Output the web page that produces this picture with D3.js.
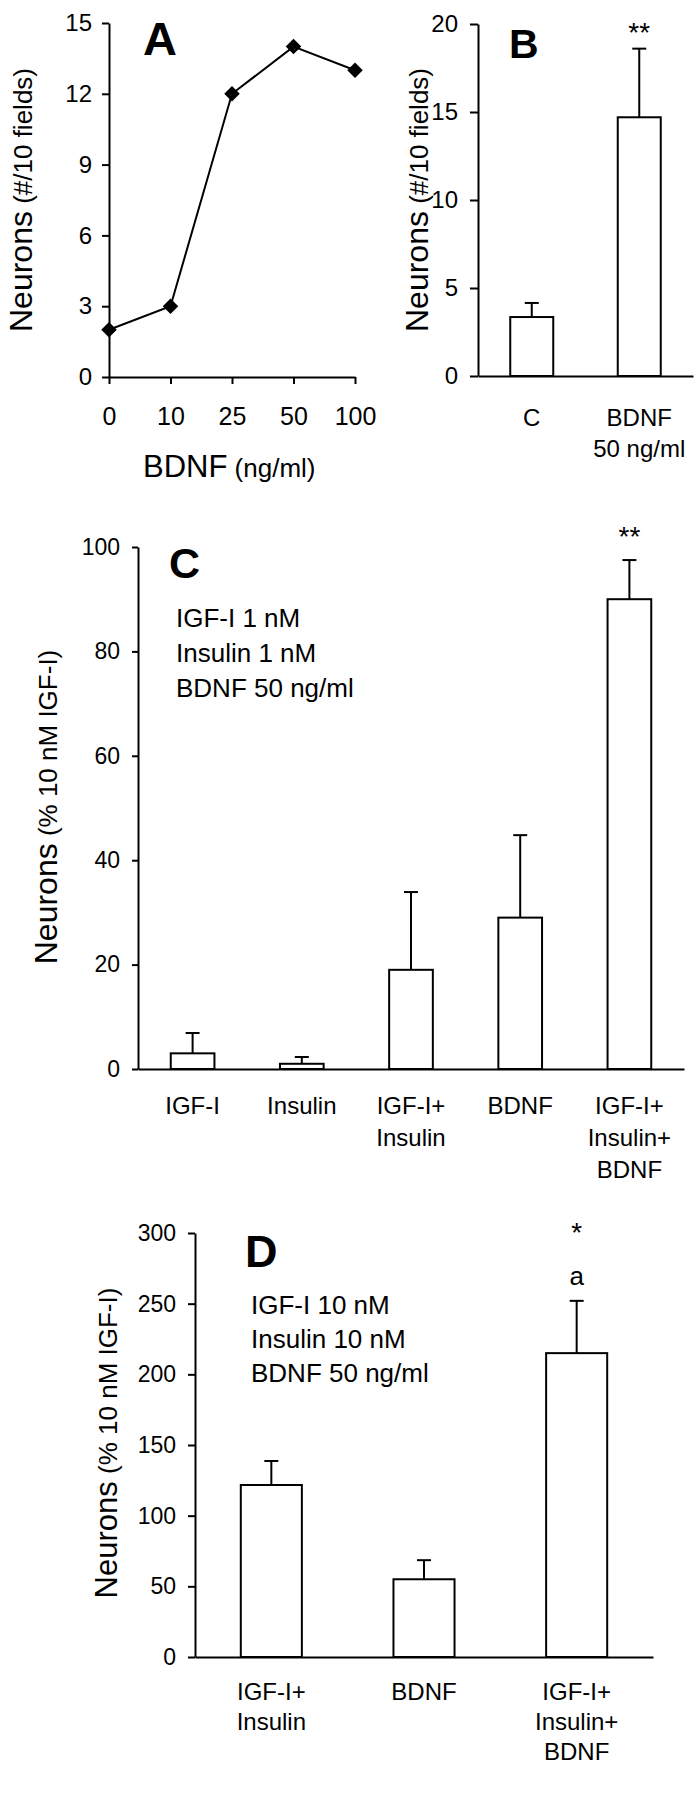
<!DOCTYPE html>
<html>
<head>
<meta charset="utf-8">
<script src="https://cdn.jsdelivr.net/npm/d3@7"></script>
<style>
  html, body { margin: 0; padding: 0; background: #fff; }
  svg { display: block; }
  text { font-family: "Liberation Sans", Arial, Helvetica, sans-serif; fill: #000; }
</style>
</head>
<body>
<svg id="fig" width="699" height="1800"></svg>
<script>
// ---------------- DATA ----------------
// Panel A: dose response
const aDoses = ["0", "10", "25", "50", "100"];
const aNeurons = [2, 3, 12, 14, 13];
const aYTicks = [0, 3, 6, 9, 12, 15];

// Panel B
const bGroups = [["C"], ["BDNF", "50 ng/ml"]];
const bMeans = [3.35, 14.7];
const bSem = [0.8, 3.9];
const bStars = ["", "**"];
const bYTicks = [0, 5, 10, 15, 20];

// Panel C
const cGroups = [["IGF-I"], ["Insulin"], ["IGF-I+", "Insulin"], ["BDNF"], ["IGF-I+", "Insulin+", "BDNF"]];
const cMeans = [3, 1, 19, 29, 90];
const cSem = [3.9, 1.3, 14.9, 15.8, 7.5];
const cStars = ["", "", "", "", "**"];
const cYTicks = [0, 20, 40, 60, 80, 100];
const cNotes = ["IGF-I 1 nM", "Insulin 1 nM", "BDNF 50 ng/ml"];

// Panel D
const dGroups = [["IGF-I+", "Insulin"], ["BDNF"], ["IGF-I+", "Insulin+", "BDNF"]];
const dMeans = [121.7, 55, 215];
const dSem = [17, 13.5, 37];
const dStars = ["", "", "*"];
const dLetters = ["", "", "a"];
const dYTicks = [0, 50, 100, 150, 200, 250, 300];
const dNotes = ["IGF-I 10 nM", "Insulin 10 nM", "BDNF 50 ng/ml"];

// ---------------- DRAW ----------------
const svg = d3.select("#fig");
svg.append("rect").attr("width", 699).attr("height", 1800).attr("fill", "#fff");
const FONT = '"Liberation Sans", Arial, Helvetica, sans-serif';

function styleAxis(g, fs) {
  g.attr("font-family", FONT).attr("font-size", fs);
  g.selectAll("path.domain").attr("stroke", "#000").attr("stroke-width", 2);
  g.selectAll(".tick line").attr("stroke", "#000").attr("stroke-width", 2);
  g.selectAll(".tick text").attr("fill", "#000");
}

function yTitle(x, y, big, small, bigSize, smallSize) {
  const t = svg.append("text")
    .attr("transform", `translate(${x},${y}) rotate(-90)`)
    .attr("text-anchor", "middle");
  t.append("tspan").attr("font-size", bigSize).text(big);
  t.append("tspan").attr("font-size", smallSize).text(" " + small);
}

function panelLetter(x, y, letter, size) {
  svg.append("text").attr("x", x).attr("y", y)
    .attr("font-size", size).attr("font-weight", "bold").text(letter);
}

// ----- Panel A -----
{
  const x = d3.scalePoint().domain(aDoses).range([109, 355]);
  const y = d3.scaleLinear().domain([0, 15]).range([377, 23]);
  const gy = svg.append("g").attr("transform", "translate(109,0)")
    .call(d3.axisLeft(y).tickValues(aYTicks).tickSize(7).tickPadding(10).tickSizeOuter(0));
  styleAxis(gy, 24);
  const gx = svg.append("g").attr("transform", "translate(0,377)")
    .call(d3.axisBottom(x).tickSize(7).tickPadding(41).tickSizeOuter(0));
  styleAxis(gx, 25);
  gx.selectAll(".tick text").attr("dy", 0);

  const line = d3.line().x((d, i) => x(aDoses[i])).y(d => y(d));
  svg.append("path").datum(aNeurons).attr("d", line)
    .attr("fill", "none").attr("stroke", "#000").attr("stroke-width", 2);
  svg.selectAll(".diamA").data(aNeurons).enter().append("path")
    .attr("d", d3.symbol().type(d3.symbolSquare).size(120))
    .attr("transform", (d, i) => `translate(${x(aDoses[i])},${y(d)}) rotate(45)`)
    .attr("fill", "#000");

  panelLetter(143, 55, "A", 47);
  yTitle(32, 200, "Neurons", "(#/10 fields)", 32, 26);
  const xl = svg.append("text").attr("x", 143).attr("y", 477);
  xl.append("tspan").attr("font-size", 31).text("BDNF");
  xl.append("tspan").attr("font-size", 26).text(" (ng/ml)");
}

// ----- generic bar panel -----
function barPanel(o) {
  const x = d3.scaleBand().domain(o.groups.map((g, i) => i))
    .range([o.x0, o.x1]).paddingInner(0.6).paddingOuter(0.3);
  const y = d3.scaleLinear().domain([0, o.ymax]).range([o.y0, o.y1]);

  const gy = svg.append("g").attr("transform", `translate(${o.x0},0)`)
    .call(d3.axisLeft(y).tickValues(o.ticks).tickSize(o.tick).tickPadding(o.pad).tickSizeOuter(0));
  styleAxis(gy, o.tickFont);
  const gx = svg.append("g").attr("transform", `translate(0,${o.y0})`)
    .call(d3.axisBottom(x).tickSize(0).tickFormat("").tickSizeOuter(0));
  styleAxis(gx, o.tickFont);

  const bw = x.bandwidth();
  const cap = 14;
  // error bars
  o.means.forEach((m, i) => {
    const cx = x(i) + bw / 2;
    svg.append("line").attr("x1", cx).attr("x2", cx)
      .attr("y1", y(m)).attr("y2", y(m + o.sem[i]))
      .attr("stroke", "#000").attr("stroke-width", 2);
    svg.append("line").attr("x1", cx - cap / 2).attr("x2", cx + cap / 2)
      .attr("y1", y(m + o.sem[i])).attr("y2", y(m + o.sem[i]))
      .attr("stroke", "#000").attr("stroke-width", 2);
  });
  // bars
  svg.selectAll(null).data(o.means).enter().append("rect")
    .attr("x", (d, i) => x(i)).attr("width", bw)
    .attr("y", d => y(d)).attr("height", d => o.y0 - y(d))
    .attr("fill", "#fff").attr("stroke", "#000").attr("stroke-width", 2);

  // category labels
  o.groups.forEach((lines, i) => {
    const t = svg.append("text").attr("text-anchor", "middle")
      .attr("font-size", o.catFont);
    lines.forEach((s, k) => {
      t.append("tspan").attr("x", x(i) + bw / 2)
        .attr("y", o.y0 + o.catOff + k * o.catGap).text(s);
    });
  });
  // significance marks
  if (o.stars) o.stars.forEach((s, i) => {
    if (!s) return;
    svg.append("text").attr("x", x(i) + bw / 2).attr("y", o.starY)
      .attr("text-anchor", "middle").attr("font-size", 28).text(s);
  });
  if (o.letters) o.letters.forEach((s, i) => {
    if (!s) return;
    svg.append("text").attr("x", x(i) + bw / 2).attr("y", o.letterY)
      .attr("text-anchor", "middle").attr("font-size", 26).text(s);
  });
  if (o.notes) o.notes.forEach((s, k) => {
    svg.append("text").attr("x", o.noteX).attr("y", o.noteY + k * o.noteGap)
      .attr("font-size", 26).text(s);
  });
  return { x, y };
}

// ----- Panel B -----
barPanel({
  groups: bGroups, means: bMeans, sem: bSem, stars: bStars, ticks: bYTicks, ymax: 20,
  x0: 478, x1: 693, y0: 376, y1: 24, tick: 8, pad: 12, tickFont: 24,
  catFont: 24, catOff: 50, catGap: 31, starY: 42
});
panelLetter(509, 58, "B", 41);
yTitle(428, 200, "Neurons", "(#/10 fields)", 32, 26);

// ----- Panel C -----
barPanel({
  groups: cGroups, means: cMeans, sem: cSem, stars: cStars, ticks: cYTicks, ymax: 100,
  x0: 138, x1: 684, y0: 1069, y1: 547, tick: 6, pad: 12, tickFont: 23,
  catFont: 24, catOff: 45, catGap: 32, starY: 546,
  notes: cNotes, noteX: 176, noteY: 627, noteGap: 35
});
panelLetter(169, 578, "C", 43);
yTitle(57, 807, "Neurons", "(% 10 nM IGF-I)", 32, 26);

// ----- Panel D -----
barPanel({
  groups: dGroups, means: dMeans, sem: dSem, stars: dStars, letters: dLetters, ticks: dYTicks, ymax: 300,
  x0: 195, x1: 653, y0: 1657, y1: 1233, tick: 7, pad: 12, tickFont: 23,
  catFont: 24, catOff: 43, catGap: 30, starY: 1242, letterY: 1285,
  notes: dNotes, noteX: 251, noteY: 1314, noteGap: 34
});
panelLetter(245, 1267, "D", 45);
yTitle(117, 1443, "Neurons", "(% 10 nM IGF-I)", 31, 26);
</script>
</body>
</html>
